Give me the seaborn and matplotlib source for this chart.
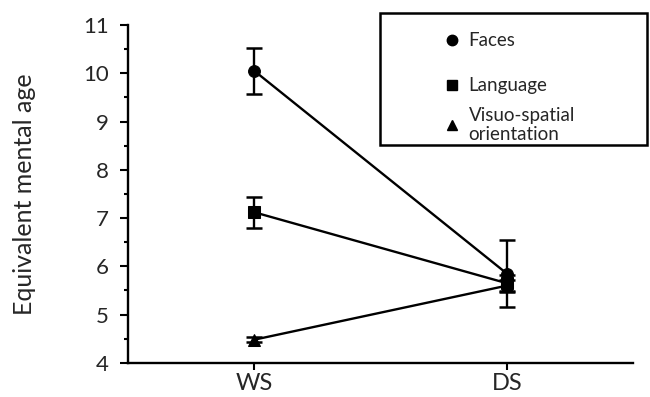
import matplotlib
matplotlib.use("Agg")
import matplotlib.pyplot as plt
from matplotlib.lines import Line2D
from matplotlib.patches import Rectangle
from matplotlib.ticker import MultipleLocator
import seaborn as sns
import pandas as pd

groups = ["WS", "DS"]
domains = ["Faces", "Language", "Visuo-spatial\norientation"]
faces = [10.05, 5.85]
faces_err = [0.47, 0.70]
language = [7.12, 5.65]
language_err = [0.32, 0.18]
visuo = [4.48, 5.60]
visuo_err = [0.05, 0.12]
yticks = [4, 5, 6, 7, 8, 9, 10, 11]
marker_map = {"Faces": "o", "Language": "s", "Visuo-spatial\norientation": "^"}

sns.set_style("ticks")
plt.rcParams["font.family"] = ["Lato", "DejaVu Sans"]

vals = [faces, language, visuo]
errs = [faces_err, language_err, visuo_err]
rows = []
for d, v, e in zip(domains, vals, errs):
    for g, vv, ee in zip(groups, v, e):
        rows.append({"group": g, "domain": d, "value": vv, "err": ee})
df = pd.DataFrame(rows)

fig = plt.figure(figsize=(6.5, 3.97), dpi=100)
ax = fig.add_axes([0.197, 0.086, 0.777, 0.851])

sns.lineplot(data=df, x="group", y="value", style="domain", markers=marker_map,
             dashes=False, color="black", linewidth=1.7, markersize=8.5,
             markeredgecolor="black", legend=False, ax=ax, sort=False)

for d in domains:
    sub = df[df["domain"] == d]
    ax.errorbar(sub["group"], sub["value"], yerr=sub["err"], fmt="none",
                ecolor="black", elinewidth=1.7, capsize=5.5, capthick=1.8)

ax.set_xlim(-0.5, 1.5)
ax.set_ylim(4, 11)
ax.set_yticks(yticks)
ax.yaxis.set_minor_locator(MultipleLocator(0.5))
ax.tick_params(axis="y", which="major", length=6, width=1.5, labelsize=16, pad=8, color="black")
ax.tick_params(axis="y", which="minor", length=3, width=1.5, color="black")
ax.tick_params(axis="x", length=5, width=1.5, labelsize=17, pad=2, color="black")
for s in ["top", "right"]:
    ax.spines[s].set_visible(False)
for s in ["left", "bottom"]:
    ax.spines[s].set_linewidth(1.7)
    ax.spines[s].set_color("black")
ax.set_xlabel("")
ax.set_ylabel("Equivalent mental age", fontsize=18, labelpad=34)

handles = [Line2D([], [], linestyle="none", marker=marker_map[d], color="black",
                  markersize=7.5) for d in domains]
fig.legend(handles[:2], domains[:2], loc="upper left",
           bbox_to_anchor=(433 / 650, 1 - 23 / 397),
           frameon=False, fontsize=13.5, handlelength=1.0, handletextpad=0.4,
           labelspacing=1.5, borderpad=0)
fig.legend(handles[2:], domains[2:], loc="center left",
           bbox_to_anchor=(433 / 650, 1 - 125 / 397),
           frameon=False, fontsize=13.5, handlelength=1.0, handletextpad=0.4,
           borderpad=0)
fig.patches.append(Rectangle((380 / 650, 1 - 145 / 397), 267 / 650, 132 / 397,
                             transform=fig.transFigure, fill=False,
                             edgecolor="black", linewidth=1.8))

fig.savefig("out.png", dpi=100)
